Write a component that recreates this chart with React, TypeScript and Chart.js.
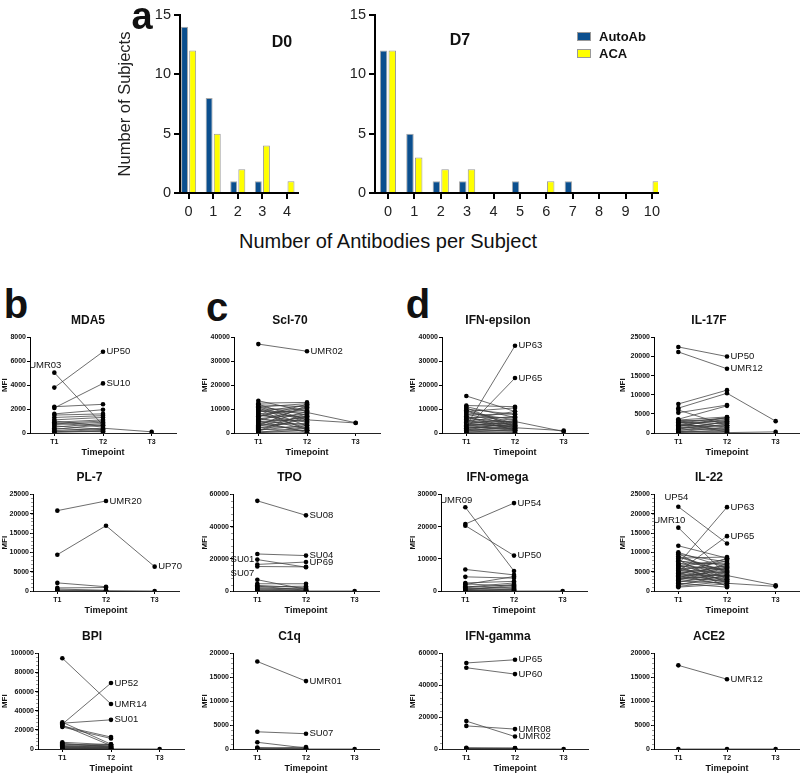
import React, { useEffect, useRef } from "react";
import { Chart, registerables } from "chart.js";
Chart.register(...registerables);

const FONT = "'Liberation Sans', Arial, Helvetica, sans-serif";

// ---------- Panel a data ----------
const countsD0 = [0, 1, 2, 3, 4];
const autoAbD0 = [14, 8, 1, 1, 0];
const acaD0 = [12, 5, 2, 4, 1];
const countsD7 = [0, 1, 2, 3, 4, 5, 6, 7, 8, 9, 10];
const autoAbD7 = [12, 5, 1, 1, 0, 1, 0, 1, 0, 0, 0];
const acaD7 = [12, 3, 2, 2, 0, 0, 1, 0, 0, 0, 1];
const subjectTicks = [0, 5, 10, 15];

// ---------- Panels b-d data ----------
const timepoints = ["T1", "T2", "T3"];

const mda5Names = ["UP50", "SU10", "UMR03"];
const mda5Values = [
  [3800, 6800], [2100, 4150], [5050, 650],
  [2200, 2400], [1600, 1950], [1500, 1600], [1300, 1450], [1100, 1300],
  [1000, 600], [900, 1100], [800, 1000], [850, 500], [700, 900], [600, 300],
  [500, 800], [400, 200], [300, 700], [200, 400, 100], [150, 100], [100, 300], [50, 150],
];

const pl7Names = ["UMR20", "UP70"];
const pl7Values = [
  [20800, 23300], [9400, 16900, 6300],
  [2100, 1100], [800, 900], [500, 200], [200, 100, 0], [100, 50],
];

const bpiNames = ["UP52", "UMR14", "SU01"];
const bpiValues = [
  [26000, 69000], [95000, 47000], [27000, 30500],
  [24000, 12500], [23000, 11000], [28000, 5000], [25000, 3500], [7000, 4500],
  [6000, 2000], [5000, 3000], [4000, 5000], [3500, 1500], [3000, 2500],
  [2500, 4000], [2000, 1000], [1500, 2000], [1000, 500], [800, 1500],
  [500, 300], [300, 800], [100, 200], [200, 100, 0],
];

const scl70Names = ["UMR02"];
const scl70Values = [
  [37200, 34200],
  [13500, 9000], [12500, 12800], [12000, 5500, 4200], [11800, 11000], [11200, 7500],
  [10800, 12300], [10500, 3000], [10000, 10000], [9600, 6000], [9200, 8600, 4300],
  [8800, 11800], [8400, 2000], [8000, 9500], [7600, 4500], [7200, 7000],
  [6800, 12000], [6400, 1500], [6000, 8000], [5600, 5000], [5200, 10500],
  [4800, 3500], [4400, 6500], [4000, 800], [3600, 9000], [3200, 4000],
  [2800, 7200], [2400, 2500], [2000, 5800], [1600, 1000], [1200, 3200],
  [800, 6800], [500, 300], [300, 2200], [100, 1200], [11000, 4800],
  [9800, 1200], [7000, 10800], [5000, 200], [3000, 11500], [1000, 8200],
];

const tpoNames = ["SU08", "SU04", "UP69", "SU01", "SU07"];
const tpoValues = [
  [56000, 47000], [23000, 22000], [16500, 18000], [19500, 14800], [15200, 15000],
  [7000, 1000], [4500, 4500], [3500, 2000], [3000, 500], [2500, 3000],
  [2000, 1000], [1500, 200], [1000, 1500], [500, 300], [200, 100], [100, 0, 0],
];

const c1qNames = ["UMR01", "SU07"];
const c1qValues = [
  [18300, 14200], [3600, 3200],
  [1400, 200], [300, 100], [100, 400], [0, 0], [200, 0, 0],
];

const ifnEpsNames = ["UP63", "UP65"];
const ifnEpsValues = [
  [3000, 36500], [2000, 23000],
  [15500, 9000], [11500, 11000], [11000, 6500], [10500, 2500], [10000, 7800],
  [9500, 4000], [9000, 10500], [8500, 5500], [8000, 3000], [7500, 8000],
  [7000, 2000], [6500, 6500], [6000, 4500], [5800, 9000], [5500, 1500],
  [5000, 7000], [4800, 3500], [4500, 5000], [4200, 2200, 1000], [4000, 6000],
  [3800, 2800], [3500, 4200], [3200, 1000], [3000, 3200], [2800, 5200],
  [2500, 1800], [2200, 2600], [2000, 3800], [1800, 800], [1500, 2000],
  [1200, 4800, 600], [1000, 1200], [800, 3000], [500, 500], [300, 1500],
  [100, 200], [6800, 1000], [9200, 3400],
];

const ifnOmegaNames = ["UMR09", "UP54", "UP50"];
const ifnOmegaValues = [
  [26000, 6200], [20800, 27300], [20300, 11000],
  [6700, 5000], [4400, 4000], [2500, 3000], [2200, 1500], [2000, 4500],
  [1500, 800], [1200, 2500], [1000, 2000], [800, 500], [600, 1200],
  [400, 300], [300, 1800], [200, 100], [100, 600], [50, 0, 0],
];

const ifnGammaNames = ["UP65", "UP60", "UMR08", "UMR02"];
const ifnGammaValues = [
  [54000, 56000], [51000, 47000], [14500, 12500], [17500, 7800],
  [800, 500], [500, 300], [300, 600], [100, 100], [200, 0, 0],
];

const il17fNames = ["UP50", "UMR12"];
const il17fValues = [
  [22500, 20000], [21200, 16800],
  [7600, 11200], [6500, 10400, 3100], [5300, 7300], [3600, 7100], [3400, 4200],
  [3200, 1500], [3000, 3800], [2800, 2500], [2600, 4000], [2400, 800],
  [2200, 3300], [2000, 1800], [1800, 3600], [1600, 600], [1400, 2800],
  [1200, 2000], [1000, 3000], [800, 1200], [600, 2400], [400, 400],
  [300, 1600], [200, 100, 300], [100, 900], [2900, 200], [3300, 3000],
  [1700, 4100], [6000, 2000],
];

const il22Names = ["UP54", "UMR10", "UP63", "UP65"];
const il22Values = [
  [21800, 12300], [16400, 4000], [7000, 21700], [5000, 14200],
  [11700, 8500], [10000, 6000], [9700, 3000], [9500, 7500], [9000, 5000],
  [8500, 8800], [8000, 2000], [7700, 6800], [7300, 4200], [7000, 7200],
  [6800, 3500], [6500, 5500], [6200, 8200], [6000, 2500], [5800, 6300],
  [5500, 4700], [5200, 7800], [5000, 3000], [4800, 5800], [4600, 2200],
  [4400, 6600], [4200, 4000, 1500], [4000, 1500], [3800, 5200], [3600, 3300],
  [3400, 7000], [3200, 2800], [3000, 4500], [2800, 6000], [2600, 2000, 1200],
  [2400, 3800], [2200, 5000], [2000, 1000], [1800, 3000], [1500, 4200],
  [1200, 2500], [1000, 1800], [8800, 4800], [6600, 1200], [4100, 8500],
  [3100, 6300], [5400, 3600], [7900, 5300],
];

const ace2Names = ["UMR12"];
const ace2Values = [[17500, 14600], [0, 0, 0]];

// ---------- chart specs (values + which point carries each name) ----------
type Spec = {
  title: string; values: number[][]; names: string[]; labelAt: number[];
  place: string[]; yMax: number; yStep: number; minor: boolean;
  left: number; axisX: number; plotTop: number; plotBottom: number;
};

const ROW = [
  { plotTop: 336, plotBottom: 433 },
  { plotTop: 493, plotBottom: 591 },
  { plotTop: 652, plotBottom: 749 },
];

const specs: Spec[] = [
  { title: "MDA5", values: mda5Values, names: mda5Names, labelAt: [1, 1, 0], place: ["right", "right", "aboveLeft"], yMax: 8000, yStep: 2000, minor: false, left: 0, axisX: 30, ...ROW[0] },
  { title: "PL-7", values: pl7Values, names: pl7Names, labelAt: [1, 2], place: ["right", "right"], yMax: 25000, yStep: 5000, minor: true, left: 0, axisX: 33, ...ROW[1] },
  { title: "BPI", values: bpiValues, names: bpiNames, labelAt: [1, 1, 1], place: ["right", "right", "right"], yMax: 100000, yStep: 20000, minor: true, left: 0, axisX: 38, ...ROW[2] },
  { title: "Scl-70", values: scl70Values, names: scl70Names, labelAt: [1], place: ["right"], yMax: 40000, yStep: 10000, minor: false, left: 200, axisX: 234, ...ROW[0] },
  { title: "TPO", values: tpoValues, names: tpoNames, labelAt: [1, 1, 1, 0, 0], place: ["right", "right", "right", "left", "leftBelow"], yMax: 60000, yStep: 20000, minor: true, left: 200, axisX: 233, ...ROW[1] },
  { title: "C1q", values: c1qValues, names: c1qNames, labelAt: [1, 1], place: ["right", "right"], yMax: 20000, yStep: 5000, minor: true, left: 200, axisX: 233, ...ROW[2] },
  { title: "IFN-epsilon", values: ifnEpsValues, names: ifnEpsNames, labelAt: [1, 1], place: ["right", "right"], yMax: 40000, yStep: 10000, minor: false, left: 408, axisX: 442, ...ROW[0] },
  { title: "IFN-omega", values: ifnOmegaValues, names: ifnOmegaNames, labelAt: [0, 1, 1], place: ["aboveLeft", "right", "right"], yMax: 30000, yStep: 10000, minor: false, left: 408, axisX: 441, ...ROW[1] },
  { title: "IFN-gamma", values: ifnGammaValues, names: ifnGammaNames, labelAt: [1, 1, 1, 1], place: ["right", "right", "right", "right"], yMax: 60000, yStep: 20000, minor: true, left: 408, axisX: 442, ...ROW[2] },
  { title: "IL-17F", values: il17fValues, names: il17fNames, labelAt: [1, 1], place: ["right", "right"], yMax: 25000, yStep: 5000, minor: false, left: 618, axisX: 654, ...ROW[0] },
  { title: "IL-22", values: il22Values, names: il22Names, labelAt: [0, 0, 1, 1], place: ["above", "aboveLeft", "right", "right"], yMax: 25000, yStep: 5000, minor: true, left: 618, axisX: 654, ...ROW[1] },
  { title: "ACE2", values: ace2Values, names: ace2Names, labelAt: [1], place: ["right"], yMax: 20000, yStep: 5000, minor: true, left: 618, axisX: 654, ...ROW[2] },
];

const PLOT_W = 146;
const EXTRA_R = 12;
const TITLE_H = 33;
const XAXIS_H = 26;

const pointLabelPlugin = {
  id: "pointLabels",
  afterDatasetsDraw(chart: any, _args: any, opts: any) {
    const items = (opts && opts.items) || [];
    const ctx = chart.ctx;
    ctx.save();
    ctx.font = `9.5px ${FONT}`;
    ctx.fillStyle = "#111";
    ctx.textBaseline = "middle";
    items.forEach((it: any) => {
      const el = chart.getDatasetMeta(it.dataset).data[it.index];
      if (!el) return;
      const x = el.x, y = el.y;
      if (it.place === "right") { ctx.textAlign = "left"; ctx.fillText(it.text, x + 3.5, y); }
      else if (it.place === "left") { ctx.textAlign = "right"; ctx.fillText(it.text, x - 3, y); }
      else if (it.place === "leftBelow") { ctx.textAlign = "right"; ctx.fillText(it.text, x - 3, y + 7); }
      else if (it.place === "aboveLeft") { ctx.textAlign = "right"; ctx.fillText(it.text, x + 7, y - 7); }
      else if (it.place === "above") { ctx.textAlign = "center"; ctx.fillText(it.text, x - 2, y - 9); }
    });
    ctx.restore();
  },
};

// short minor tick marks along the y axis, placed by the y scale
const minorTickPlugin = {
  id: "minorTicks",
  afterDraw(chart: any, _args: any, opts: any) {
    if (!opts || !opts.step) return;
    const y = chart.scales.y;
    const ctx = chart.ctx;
    const x0 = chart.chartArea.left;
    ctx.save();
    ctx.strokeStyle = "#555";
    ctx.lineWidth = 0.6;
    ctx.beginPath();
    for (let v = 0; v <= y.max + 1e-6; v += opts.step) {
      const py = Math.round(y.getPixelForValue(v)) + 0.5;
      ctx.moveTo(x0 - 2, py);
      ctx.lineTo(x0, py);
    }
    ctx.stroke();
    ctx.restore();
  },
};

function SpaghettiChart({ spec }: { spec: Spec }) {
  const ref = useRef<HTMLCanvasElement>(null);
  const yW = spec.axisX - spec.left;
  const width = yW + PLOT_W + EXTRA_R;
  const top = spec.plotTop - TITLE_H;
  const height = TITLE_H + (spec.plotBottom - spec.plotTop) + XAXIS_H;
  useEffect(() => {
    const datasets = spec.values.map((row) => ({
      data: row,
      borderColor: "#3c3c3c",
      borderWidth: 0.75,
      pointRadius: 2.3,
      pointBackgroundColor: "#000",
      pointBorderWidth: 0,
      pointHoverRadius: 2.3,
      fill: false,
      tension: 0,
      spanGaps: false,
    }));
    const items = spec.names.map((n, i) => ({ dataset: i, index: spec.labelAt[i], text: n, place: spec.place[i] }));
    const tickFont = { family: FONT, size: 7, weight: "bold" as const };
    const chart = new Chart(ref.current!, {
      type: "line",
      data: { labels: timepoints, datasets },
      options: {
        responsive: false,
        animation: false,
        devicePixelRatio: 1,
        layout: { padding: { left: 0, top: 0, bottom: 0, right: EXTRA_R } },
        plugins: {
          legend: { display: false },
          tooltip: { enabled: false },
          title: { display: true, text: spec.title, color: "#111", font: { family: FONT, size: 12, weight: "bold" }, padding: { top: 10, bottom: 10 } },
          pointLabels: { items },
          minorTicks: { step: spec.minor ? spec.yStep / 5 : 0 },
        } as any,
        scales: {
          x: {
            type: "category",
            offset: true,
            grid: { display: true, drawOnChartArea: false, drawTicks: true, tickLength: 3, color: "#000", lineWidth: 1 },
            border: { display: true, color: "#222", width: 1 },
            ticks: { font: tickFont, color: "#111", padding: 2, maxRotation: 0, autoSkip: false },
            title: { display: true, text: "Timepoint", color: "#111", font: { family: FONT, size: 9, weight: "bold" }, padding: { top: 0, bottom: 1 } },
            afterFit: (s: any) => { s.height = XAXIS_H; },
          },
          y: {
            min: 0,
            max: spec.yMax,
            grid: { display: true, drawOnChartArea: false, drawTicks: true, tickLength: 3, color: "#000", lineWidth: 1 },
            border: { display: true, color: "#000", width: 1 },
            ticks: { stepSize: spec.yStep, font: tickFont, color: "#111", padding: 1, callback: (v: any) => String(v) },
            title: { display: true, text: "MFI", color: "#111", font: { family: FONT, size: 8, weight: "bold" }, padding: { top: 0, bottom: 0 } },
            afterFit: (s: any) => { s.width = yW; },
          },
        },
      },
      plugins: [pointLabelPlugin, minorTickPlugin],
    });
    return () => chart.destroy();
  }, []);
  return (
    <canvas ref={ref} width={width} height={height}
      style={{ position: "absolute", left: spec.left, top, width, height }} />
  );
}

const BLUE = "#0b4f8e";
const YELLOW = "#ffff00";

function BarChart({ cats, blue, yellow, left, width, yW, padRight, showTitle, xMin, xMax }: any) {
  const ref = useRef<HTMLCanvasElement>(null);
  useEffect(() => {
    const toPts = (vals: number[]) => cats.map((c: number, i: number) => ({ x: c, y: vals[i] ? vals[i] : null }));
    const chart = new Chart(ref.current!, {
      type: "bar",
      data: {
        datasets: [
          { label: "AutoAb", data: toPts(blue), backgroundColor: BLUE, borderColor: "#a8a8a8", borderWidth: 1, borderSkipped: "start", categoryPercentage: 0.66, barPercentage: 0.86 },
          { label: "ACA", data: toPts(yellow), backgroundColor: YELLOW, borderColor: "#999", borderWidth: 1, borderSkipped: "start", categoryPercentage: 0.66, barPercentage: 0.86 },
        ] as any,
      },
      options: {
        responsive: false,
        animation: false,
        devicePixelRatio: 1,
        layout: { padding: { top: 15, right: padRight, left: 0, bottom: 0 } },
        plugins: { legend: { display: false }, tooltip: { enabled: false } },
        scales: {
          x: {
            type: "linear",
            offset: false,
            min: xMin,
            max: xMax,
            afterBuildTicks: (s: any) => { s.ticks = cats.map((v: number) => ({ value: v })); },
            grid: { display: true, offset: false, drawOnChartArea: false, drawTicks: true, tickLength: 6, color: "#000", lineWidth: 2 },
            border: { display: true, color: "#000", width: 2 },
            ticks: { font: { family: FONT, size: 14.5 }, color: "#222", padding: 4, maxRotation: 0, autoSkip: false, callback: (v: any) => String(v) },
            afterFit: (s: any) => { s.height = 37; },
          },
          y: {
            min: 0,
            max: 15,
            afterBuildTicks: (s: any) => { s.ticks = subjectTicks.map((v) => ({ value: v })); },
            grid: { display: true, drawOnChartArea: false, drawTicks: true, tickLength: 6, color: "#000", lineWidth: 2 },
            border: { display: true, color: "#000", width: 2 },
            ticks: { font: { family: FONT, size: 14.5 }, color: "#222", padding: 3 },
            title: { display: showTitle, text: "Number of Subjects", color: "#222", font: { family: FONT, size: 16.5 }, padding: { top: 16, bottom: 0 } },
            afterFit: (s: any) => { s.width = yW; },
          },
        },
      },
    });
    return () => chart.destroy();
  }, []);
  return <canvas ref={ref} width={width} height={230} style={{ position: "absolute", left, top: 0, width, height: 230 }} />;
}

function Txt({ x, y, size, bold, children }: any) {
  return (
    <div style={{
      position: "absolute", left: x, top: y, transform: "translate(-50%, -50%)",
      fontFamily: FONT, fontSize: size, fontWeight: bold ? "bold" : "normal",
      lineHeight: 1, whiteSpace: "nowrap", color: "#111",
    }}>{children}</div>
  );
}

export default function App() {
  return (
    <div style={{ position: "absolute", left: 0, top: 0, width: 800, height: 774, overflow: "hidden", background: "#fff" }}>
      <BarChart cats={countsD0} blue={autoAbD0} yellow={acaD0} left={100} width={200} yW={80} padRight={2} showTitle={true} xMin={-0.35} xMax={4.45} />
      <BarChart cats={countsD7} blue={autoAbD7} yellow={acaD7} left={300} width={370} yW={75} padRight={12} showTitle={false} xMin={-0.49} xMax={10.23} />
      <Txt x={282} y={42} size={16} bold>D0</Txt>
      <Txt x={460} y={40} size={16} bold>D7</Txt>
      <div style={{ position: "absolute", left: 577, top: 32, width: 14, height: 9, background: BLUE, boxSizing: "border-box", border: "1px solid #999" }} />
      <div style={{ position: "absolute", left: 577, top: 49, width: 14, height: 9, background: YELLOW, boxSizing: "border-box", border: "1px solid #999" }} />
      <div style={{ position: "absolute", left: 599, top: 30, fontFamily: FONT, fontSize: 13, fontWeight: "bold", lineHeight: "14px", color: "#111" }}>AutoAb</div>
      <div style={{ position: "absolute", left: 599, top: 47, fontFamily: FONT, fontSize: 13, fontWeight: "bold", lineHeight: "14px", color: "#111" }}>ACA</div>
      <Txt x={388} y={241} size={20}>Number of Antibodies per Subject</Txt>
      <Txt x={142} y={16} size={38} bold>a</Txt>
      <Txt x={16} y={304} size={40} bold>b</Txt>
      <Txt x={217} y={307} size={40} bold>c</Txt>
      <Txt x={418} y={304} size={40} bold>d</Txt>
      {specs.map((s) => <SpaghettiChart key={s.title} spec={s} />)}
    </div>
  );
}
